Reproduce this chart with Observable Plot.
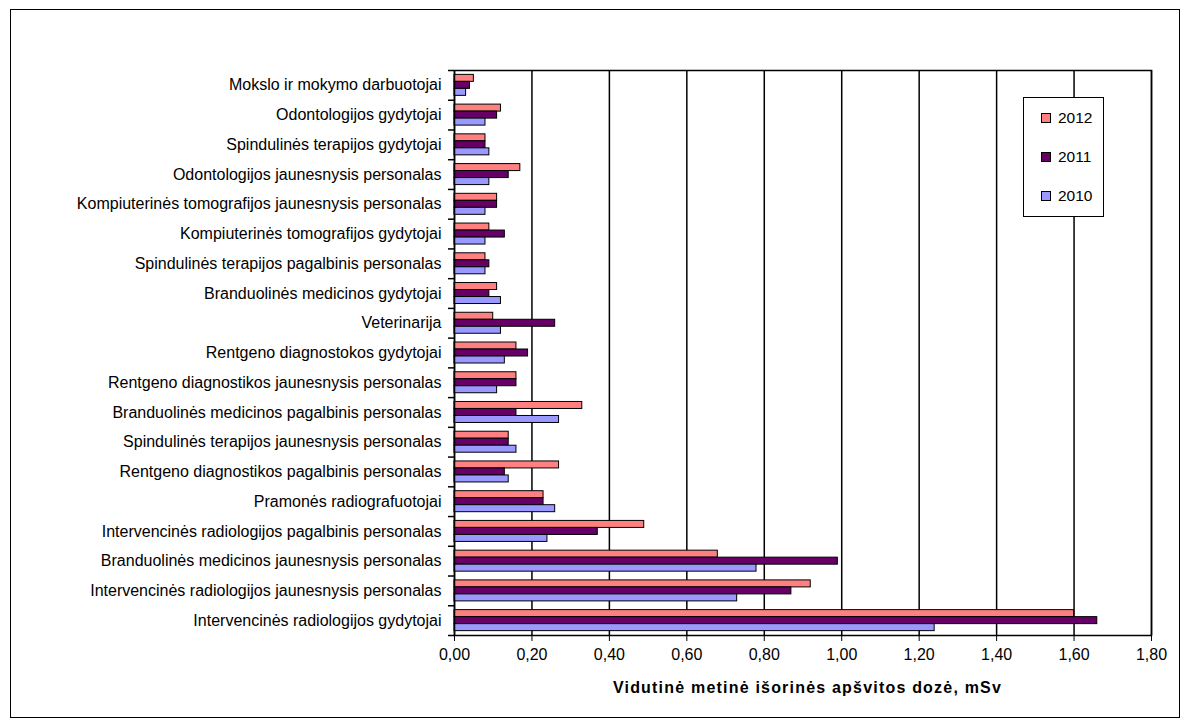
<!DOCTYPE html>
<html>
<head>
<meta charset="utf-8">
<script src="https://cdn.jsdelivr.net/npm/d3@7"></script>
<script src="https://cdn.jsdelivr.net/npm/@observablehq/plot@0.6"></script>
<style>
html, body { margin: 0; padding: 0; background: #fff; }
#wrap { position: relative; width: 1186px; height: 721px; font-family: "Liberation Sans", Arial, sans-serif; color: #000; }
#outer { position: absolute; left: 10px; top: 9px; width: 1168px; height: 707px; border: 1.5px solid #000; pointer-events: none; }
#legend { position: absolute; left: 1023px; top: 97px; width: 79px; height: 118px; border: 1.5px solid #000; background: #fff; }
.li { height: 39px; line-height: 39px; font-size: 15.5px; display: flex; align-items: center; padding-left: 17px; }
.sw { width: 8px; height: 8px; border: 1px solid #000; margin-right: 7px; }
#xtitle { position: absolute; left: 459px; width: 697px; top: 679px; text-align: center; font-weight: bold; font-size: 16px; letter-spacing: 1.2px; }
</style>
</head>
<body>
<div id="wrap">
  <div id="chart"></div>
  <div id="outer"></div>
  <div id="legend"></div>
  <div id="xtitle"></div>
</div>
<script>
const categories = [
  "Mokslo ir mokymo darbuotojai",
  "Odontologijos gydytojai",
  "Spindulinės terapijos gydytojai",
  "Odontologijos jaunesnysis personalas",
  "Kompiuterinės tomografijos jaunesnysis personalas",
  "Kompiuterinės tomografijos gydytojai",
  "Spindulinės terapijos pagalbinis personalas",
  "Branduolinės medicinos gydytojai",
  "Veterinarija",
  "Rentgeno diagnostokos gydytojai",
  "Rentgeno diagnostikos jaunesnysis personalas",
  "Branduolinės medicinos pagalbinis personalas",
  "Spindulinės terapijos jaunesnysis personalas",
  "Rentgeno diagnostikos pagalbinis personalas",
  "Pramonės radiografuotojai",
  "Intervencinės radiologijos pagalbinis personalas",
  "Branduolinės medicinos jaunesnysis personalas",
  "Intervencinės radiologijos jaunesnysis personalas",
  "Intervencinės radiologijos gydytojai"
];
const v2012 = [0.05, 0.12, 0.08, 0.17, 0.11, 0.09, 0.08, 0.11, 0.10, 0.16, 0.16, 0.33, 0.14, 0.27, 0.23, 0.49, 0.68, 0.92, 1.60];
const v2011 = [0.04, 0.11, 0.08, 0.14, 0.11, 0.13, 0.09, 0.09, 0.26, 0.19, 0.16, 0.16, 0.14, 0.13, 0.23, 0.37, 0.99, 0.87, 1.66];
const v2010 = [0.03, 0.08, 0.09, 0.09, 0.08, 0.08, 0.08, 0.12, 0.12, 0.13, 0.11, 0.27, 0.16, 0.14, 0.26, 0.24, 0.78, 0.73, 1.24];
const years = ["2012", "2011", "2010"];
const seriesValues = [v2012, v2011, v2010];
const colors = ["#FF8080", "#660066", "#9999FF"];
const xTicks = [0, 0.2, 0.4, 0.6, 0.8, 1.0, 1.2, 1.4, 1.6, 1.8];
const xTitle = "Vidutinė metinė išorinės apšvitos dozė, mSv";

const W = 1186, H = 721, mL = 454, mR = 35, mT = 70, mB = 86;
const band = (H - mT - mB) / categories.length;
const barH = 7;
const top0 = (band - 3 * barH) / 2;
const pxPerUnit = (W - mL - mR) / 1.8;
const tickLen = 6 / pxPerUnit;

const fmt = d => d.toFixed(2).replace(".", ",");

const barMarks = years.map((yr, j) => {
  const rows = categories.map((c, i) => ({cat: c, value: seriesValues[j][i]}));
  return Plot.barX(rows, {
    y: "cat", x: "value",
    fill: colors[j], stroke: "#000", strokeWidth: 1,
    insetTop: top0 + j * barH,
    insetBottom: band - top0 - (j + 1) * barH
  });
});

const plot = Plot.plot({
  width: W, height: H,
  marginLeft: mL, marginRight: mR, marginTop: mT, marginBottom: mB,
  style: {fontFamily: '"Liberation Sans", Arial, sans-serif', fontSize: "16px", color: "#000", background: "transparent"},
  x: {domain: [0, 1.8], ticks: xTicks, tickFormat: fmt, tickSize: 6, tickPadding: 7, label: null},
  y: {domain: categories, padding: 0, round: false, tickSize: 0, tickPadding: 13, label: null},
  marks: [
    Plot.ruleX(xTicks, {stroke: "#000", strokeWidth: 1.5}),
    ...barMarks,
    Plot.ruleY(categories, {y: d => d, x1: -tickLen, x2: 0, dy: -band / 2, stroke: "#000", strokeWidth: 1.5}),
    Plot.ruleY(categories.slice(-1), {y: d => d, x1: -tickLen, x2: 0, dy: band / 2, stroke: "#000", strokeWidth: 1.5}),
    Plot.frame({stroke: "#000", strokeWidth: 1.5})
  ]
});
document.getElementById("chart").appendChild(plot);

const legend = document.getElementById("legend");
years.forEach((yr, j) => {
  const item = document.createElement("div");
  item.className = "li";
  const sw = document.createElement("span");
  sw.className = "sw";
  sw.style.background = colors[j];
  const t = document.createElement("span");
  t.textContent = yr;
  item.appendChild(sw);
  item.appendChild(t);
  legend.appendChild(item);
});
document.getElementById("xtitle").textContent = xTitle;
</script>
</body>
</html>
